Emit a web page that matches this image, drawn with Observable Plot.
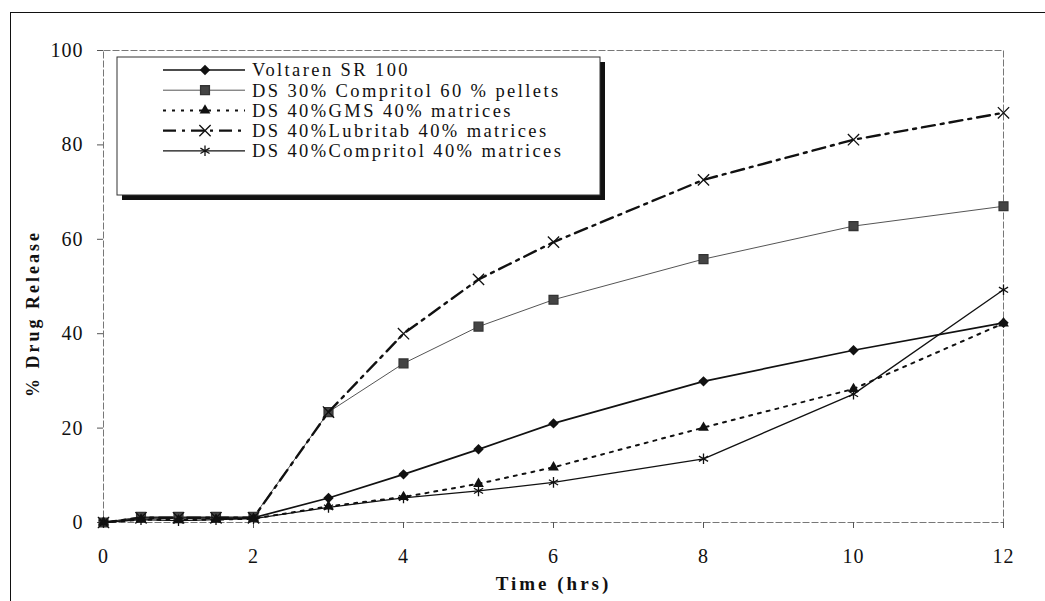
<!DOCTYPE html>
<html><head><meta charset="utf-8">
<script src="https://cdn.jsdelivr.net/npm/d3@7"></script>
<script src="https://cdn.jsdelivr.net/npm/@observablehq/plot@0.6"></script>
<style>
html,body{margin:0;padding:0;background:#fff;}
body{width:1045px;height:601px;overflow:hidden;position:relative;font-family:"Liberation Serif","Times New Roman",serif;}
#frame{position:absolute;left:10px;top:12px;width:1060px;height:640px;border:1.5px solid #111;box-sizing:border-box;}
#chart{position:absolute;left:0;top:0;}
#legend{position:absolute;left:0;top:0;pointer-events:none;}
</style></head><body>
<div id="frame"></div>
<div id="chart"></div>
<svg id="legend" width="1045" height="601"></svg>
<script>
// ---- data ----
const hours = [0, 0.5, 1, 1.5, 2, 3, 4, 5, 6, 8, 10, 12];
const seriesNames = [
  "Voltaren SR 100",
  "DS 30% Compritol 60 % pellets",
  "DS 40%GMS 40% matrices",
  "DS 40%Lubritab 40% matrices",
  "DS 40%Compritol 40% matrices"
];
const voltaren          = [0, 1.0, 1.0, 1.0, 1.0, 5.2, 10.2, 15.5, 21.0, 29.9, 36.5, 42.3];
const compritolPellets  = [0, 1.2, 1.2, 1.2, 1.2, 23.4, 33.7, 41.5, 47.2, 55.8, 62.8, 67.0];
const gmsMatrices       = [0, 0.6, 0.5, 0.6, 0.8, 3.4, 5.4, 8.2, 11.7, 20.1, 28.3, 42.2];
const lubritabMatrices  = [0, 1.0, 1.0, 1.0, 1.0, 23.4, 40.0, 51.5, 59.4, 72.6, 81.1, 86.8];
const compritolMatrices = [0, 0.6, 0.4, 0.6, 0.8, 3.2, 5.2, 6.7, 8.5, 13.5, 27.2, 49.3];
const xTicks = [0, 2, 4, 6, 8, 10, 12];
const yTicks = [0, 20, 40, 60, 80, 100];
const xLabel = "Time (hrs)";
const yLabel = "% Drug Release";

const seriesValues = [voltaren, compritolPellets, gmsMatrices, lubritabMatrices, compritolMatrices];

// ---- styles ----
const styles = [
  {stroke: "#111", width: 1.7, dash: null,       symbol: "diamond2", fill: "#111", dotStroke: "none", r: 4.7},
  {stroke: "#555", width: 1.0, dash: null,       symbol: "square",   fill: "#444", dotStroke: "#333", r: 5.0},
  {stroke: "#111", width: 2.0, dash: "3,6",      symbol: "triangle", fill: "#111", dotStroke: "none", r: 4.0},
  {stroke: "#111", width: 2.4, dash: "13,6,3,6", symbol: "times",    fill: "none", dotStroke: "#111", r: 5.2},
  {stroke: "#111", width: 1.3, dash: null,       symbol: "asterisk", fill: "none", dotStroke: "#111", r: 5.0}
];

const marks = [];
seriesNames.forEach((name, i) => {
  const rows = hours.map((h, j) => ({hour: h, value: seriesValues[i][j], series: name}));
  const s = styles[i];
  marks.push(Plot.line(rows, {x: "hour", y: "value", stroke: s.stroke, strokeWidth: s.width,
    strokeDasharray: s.dash || undefined, strokeLinejoin: "round"}));
  marks.push(Plot.dot(rows, {x: "hour", y: "value", symbol: () => s.symbol, r: s.r,
    fill: s.fill, stroke: s.dotStroke, strokeWidth: 1.3}));
});

const chart = Plot.plot({
  width: 1045,
  height: 601,
  marginLeft: 103,
  marginRight: 42,
  marginTop: 50,
  marginBottom: 79,
  style: {fontFamily: '"Liberation Serif","Times New Roman",serif', fontSize: "20px", background: "transparent", color: "#111", overflow: "visible"},
  x: {domain: [0, 12]},
  y: {domain: [0, 100]},
  symbol: {type: "identity"},
  marks: [
    Plot.frame({stroke: "#777", strokeWidth: 1, strokeDasharray: "7,2"}),
    Plot.axisX({ticks: xTicks, tickSize: 6, tickPadding: 20, label: null, stroke: "#555", fill: "#111", fontSize: 20}),
    Plot.axisY({ticks: yTicks, tickSize: 6, tickPadding: 14, label: null, stroke: "#555", fill: "#111", fontSize: 20}),
    Plot.text([xLabel], {text: d => d, frameAnchor: "bottom", dy: 61, lineAnchor: "middle", fontWeight: "bold", fontSize: 19, fill: "#111"}),
    Plot.text([yLabel], {text: d => d, frameAnchor: "left", dx: -70, dy: 27, rotate: -90, lineAnchor: "middle", textAnchor: "middle", fontWeight: "bold", fontSize: 18, fill: "#111"}),
    ...marks
  ]
});
document.getElementById("chart").appendChild(chart);
const chartSel = d3.select(chart);
chartSel.selectAll('[aria-label="x-axis tick label"] text, [aria-label="y-axis tick label"] text').style("letter-spacing", "1px");
chartSel.selectAll('[aria-label="text"] text').style("letter-spacing", "3px");

// ---- legend ----
const lg = d3.select("#legend");
const bx = 117, by = 57, bw = 483, bh = 138;
lg.append("rect").attr("x", bx + 5).attr("y", by + 5).attr("width", bw).attr("height", bh).attr("fill", "#111");
lg.append("rect").attr("x", bx).attr("y", by).attr("width", bw).attr("height", bh).attr("fill", "#fff")
  .attr("stroke", "#333").attr("stroke-width", 1);
const symMap = {diamond2: d3.symbolDiamond2, square: d3.symbolSquare, triangle: d3.symbolTriangle, times: d3.symbolTimes, asterisk: d3.symbolAsterisk};
seriesNames.forEach((name, i) => {
  const s = styles[i];
  const y = 70 + i * 20.2;
  lg.append("line").attr("x1", 163).attr("x2", 245).attr("y1", y).attr("y2", y)
    .attr("stroke", s.stroke).attr("stroke-width", s.width).attr("stroke-dasharray", s.dash);
  lg.append("path").attr("transform", `translate(205,${y})`)
    .attr("d", d3.symbol(symMap[s.symbol], Math.PI * s.r * s.r)())
    .attr("fill", s.fill).attr("stroke", s.dotStroke).attr("stroke-width", 1.3);
  lg.append("text").attr("x", 252).attr("y", y).attr("dy", "0.35em")
    .attr("font-family", '"Liberation Serif","Times New Roman",serif').attr("font-size", 18.5)
    .attr("letter-spacing", "2.4px").attr("fill", "#111").text(name);
});
</script>
</body></html>
